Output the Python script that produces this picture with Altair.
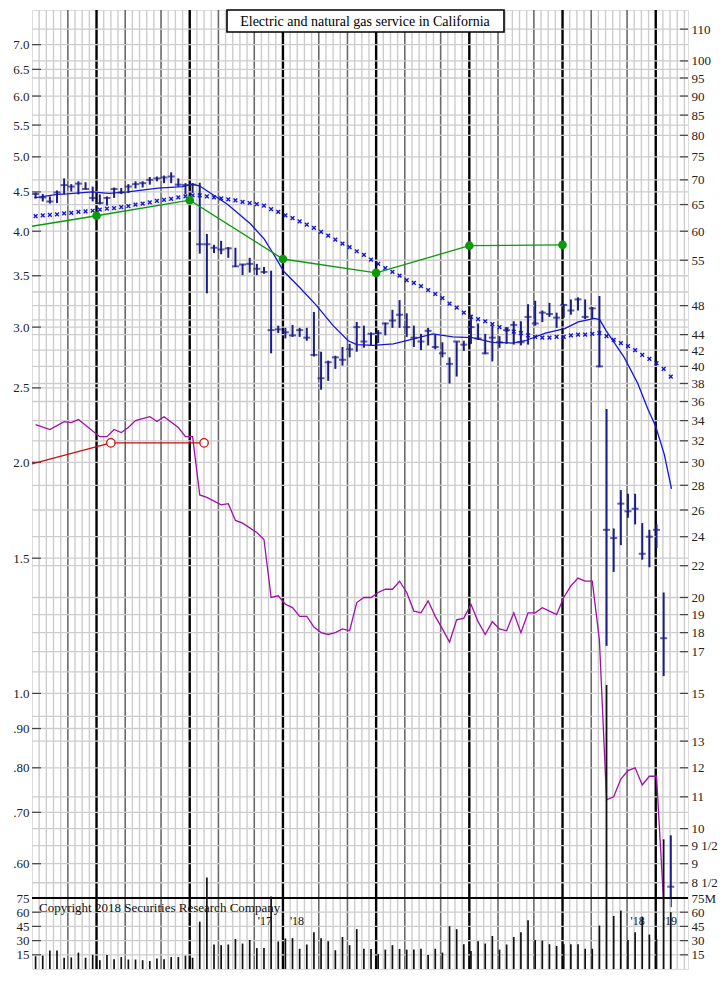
import altair as alt
import pandas as pd

TITLE = "Electric and natural gas service in California"
FONT = "Liberation Serif"

# ---- weekly price bars (bar index 0..89) ----
hi = [67.4, 67.1, 66.6, 67.8, 70.3, 69.1, 69.7, 69.5, 68.6, 67.0, 66.6, 68.4, 68.3, 69.1, 69.7, 69.7, 70.6, 70.7, 70.9, 71.6,
      70.3, 69.3, 69.3, 69.4, 59.5, 57.6, 58.3, 57.2, 57.1, 54.4, 55.4, 54.4, 53.9, 53.3, 45.2, 44.9, 45.3, 44.9, 44.9, 47.1,
      41.8, 40.7, 41.3, 42.4, 42.8, 45.7, 45.2, 44.3, 44.6, 45.6, 47.4, 48.8, 46.9, 45.2, 44.1, 44.9, 44.0, 43.0, 41.1, 43.1,
      43.2, 46.7, 45.5, 44.1, 45.2, 43.8, 45.0, 45.8, 45.8, 48.2, 48.7, 47.3, 48.4, 47.0, 48.2, 48.9, 49.2, 48.9, 47.8, 49.4,
      35.2, 24.6, 27.6, 27.3, 27.3, 25.0, 24.5, 24.9, 20.3, 9.8]
lo = [66.2, 65.6, 65.2, 65.3, 67.0, 67.6, 67.0, 68.0, 65.6, 65.0, 64.8, 66.3, 67.1, 67.3, 68.2, 68.4, 69.0, 69.7, 69.3, 69.3,
      68.6, 67.0, 67.3, 56.1, 49.8, 56.2, 56.0, 55.4, 53.9, 52.6, 53.0, 52.6, 52.8, 41.6, 44.2, 43.5, 43.7, 43.7, 43.2, 41.2,
      37.3, 38.3, 39.7, 40.1, 41.1, 41.8, 42.3, 42.6, 42.9, 43.9, 44.9, 44.9, 43.7, 42.4, 42.0, 42.6, 42.1, 41.1, 38.0, 38.8,
      41.9, 42.8, 43.3, 41.5, 40.6, 42.3, 42.8, 42.7, 42.6, 42.7, 45.2, 45.7, 46.4, 44.9, 46.3, 46.7, 47.3, 46.1, 46.1, 39.9,
      17.3, 21.6, 23.4, 25.4, 24.9, 22.4, 21.9, 23.2, 15.8, 7.9]
close = [67.1, 66.4, 65.6, 67.4, 68.9, 68.6, 69.2, 68.1, 66.3, 65.3, 66.3, 68.1, 67.4, 68.6, 69.1, 69.3, 70.0, 70.3, 70.5, 70.7,
         69.0, 68.9, 69.0, 57.7, 57.7, 57.1, 56.8, 57.0, 54.0, 54.3, 54.4, 53.6, 53.1, 44.6, 44.7, 44.3, 43.9, 44.6, 43.6, 41.4,
         38.6, 40.5, 41.1, 40.8, 42.1, 45.0, 43.1, 44.1, 44.2, 45.5, 45.9, 46.7, 45.0, 43.6, 43.1, 44.5, 42.4, 41.6, 40.3, 43.1,
         42.7, 45.0, 43.5, 41.6, 43.6, 43.0, 44.6, 45.3, 43.0, 46.4, 45.5, 47.0, 46.8, 46.3, 48.1, 47.3, 48.9, 46.4, 47.6, 40.0,
         24.5, 23.9, 26.5, 25.9, 26.1, 22.8, 24.0, 24.5, 17.7, 8.4]
ma30 = [62.8, 62.9, 63.0, 63.1, 63.3, 63.4, 63.6, 63.7, 63.8, 64.0, 64.2, 64.3, 64.5, 64.7, 65.0, 65.2, 65.4, 65.7, 65.9, 66.1,
        66.4, 66.6, 66.8, 66.8, 66.6, 66.4, 66.2, 66.0, 65.8, 65.5, 65.3, 65.1, 64.8, 64.1, 63.6, 62.9, 62.4, 61.8, 61.2, 60.6,
        59.9, 59.2, 58.5, 57.8, 57.2, 56.5, 55.9, 55.1, 54.4, 53.7, 53.1, 52.5, 51.8, 51.4, 50.9, 50.3, 49.7, 49.1, 48.3, 47.7,
        47.0, 46.4, 46.1, 45.8, 45.4, 45.0, 44.7, 44.4, 44.2, 43.9, 43.7, 43.6, 43.6, 43.7, 43.7, 43.9, 44.0, 44.0, 44.1, 44.2,
        43.8, 43.3, 42.9, 42.5, 42.0, 41.4, 40.9, 40.4, 39.7, 38.8]
volume = [13.5, 14.1, 19.5, 19.5, 11.9, 12.2, 17.3, 11.9, 15.0, 9.3, 14.8, 10.3, 12.6, 10.0, 10.0, 9.3, 8.4, 11.0, 10.3, 12.6,
          12.6, 14.1, 11.9, 50.0, 96.7, 25.9, 25.2, 25.9, 31.6, 26.9, 30.7, 22.1, 22.1, 76.7, 29.0, 32.2, 32.6, 21.4, 25.9, 38.9,
          32.6, 29.3, 19.8, 33.8, 25.2, 42.1, 21.4, 21.1, 15.7, 20.5, 25.2, 21.1, 20.5, 20.5, 21.4, 14.8, 21.4, 17.3, 45.2, 42.1,
          26.2, 18.9, 29.3, 26.9, 34.8, 20.5, 25.9, 33.8, 38.9, 51.6, 30.7, 30.0, 26.2, 24.3, 26.2, 26.2, 26.2, 21.4, 21.4, 45.9,
          300.0, 56.0, 61.7, 30.7, 38.9, 55.4, 36.4, 31.6, 137.0, 60.0]

# ---- 10-week moving average (week position, price) ----
ma10_week = [0.3, 3.5, 4.9, 8.4, 10.7, 13.4, 17.6, 21.0, 22.4, 23.4, 27.3, 30.5, 32.4, 33.7, 35.1, 37.4, 39.7, 42.0, 44.1,
             45.3, 47.6, 50.4, 53.1, 55.9, 58.7, 61.4, 64.2, 67.0, 68.8, 71.6, 74.3, 76.2, 78.5, 79.2, 80.1, 82.6, 84.5,
             85.9, 87.0, 88.2, 89.2]
ma10 = [66.3, 67.0, 67.1, 67.5, 67.2, 67.5, 68.3, 68.6, 69.1, 68.7, 65.0, 61.3, 58.6, 56.0, 53.2, 50.6, 48.0, 45.2, 43.2,
        42.7, 42.6, 42.8, 43.4, 44.1, 43.7, 43.6, 43.0, 42.9, 43.2, 44.2, 44.8, 45.7, 46.2, 46.0, 44.5, 41.1, 38.0,
        35.2, 33.4, 30.7, 27.7]

# ---- relative strength line (bar index, value on price scale) ----
rs_bar = [0, 2, 4, 5, 6, 9, 10, 11, 12, 13, 14, 16, 17, 18, 20, 21, 22, 23, 24, 26, 27, 28, 29, 31, 32, 33, 34, 35, 36, 37,
          38, 39, 40, 41, 42, 43, 44, 45, 46, 47, 48, 49, 50, 51, 52, 53, 54, 55, 56, 57, 58, 59, 60, 61, 62, 63, 64, 65, 66,
          67, 68, 69, 70, 71, 72, 73, 74, 75, 76, 77, 78, 79, 80, 81, 82, 83, 84, 85, 86, 87, 88]
rs = [33.6, 33.1, 33.9, 33.8, 34.1, 32.4, 32.4, 33.1, 32.8, 33.3, 34.0, 34.4, 33.9, 34.4, 33.3, 32.4, 32.4, 27.2, 27.0, 26.4,
      26.5, 25.2, 25.0, 24.3, 23.8, 20.0, 20.1, 19.6, 19.4, 18.9, 18.9, 18.3, 18.0, 17.9, 18.0, 18.2, 18.1, 19.7, 20.0, 20.0,
      20.3, 20.5, 20.5, 21.0, 20.3, 19.2, 19.1, 19.8, 18.9, 18.2, 17.5, 18.7, 18.8, 19.6, 18.6, 17.9, 18.6, 18.2, 18.1, 19.1,
      18.0, 19.1, 19.1, 19.4, 19.2, 19.0, 20.0, 20.7, 21.2, 21.0, 21.0, 17.6, 10.9, 11.0, 11.6, 11.9, 12.0, 11.4, 11.7, 11.7, 8.0]

# ---- earnings (12-mo) and dividends, left scale ----
earn_week = [0, 9, 22, 35, 48, 61, 74]
earn = [4.06, 4.19, 4.39, 3.68, 3.53, 3.83, 3.84]
div_week = [0, 11, 24]
div = [1.99, 2.12, 2.12]

# ---- scales / ticks ----
right_labels = [110, 100, 95, 90, 85, 80, 75, 70, 65, 60, 55, 48, 44, 42, 40, 38, 36, 34, 32, 30, 28, 26, 24, 22, 20, 19,
                18, 17, 15, 13, 12, 11, 10, 9.5, 9, 8.5]
left_labels = [7.0, 6.5, 6.0, 5.5, 5.0, 4.5, 4.0, 3.5, 3.0, 2.5, 2.0, 1.5, 1.0, 0.9, 0.8, 0.7, 0.6]
hgrid_extra = [50, 46, 16, 14, 13]
vol_labels = [15, 30, 45, 60, 75]
quarter_weeks = [9, 22, 35, 48, 61, 74, 87]
month_weeks = [5, 13, 18, 26, 31, 40, 44, 52, 57, 65, 70, 78, 83]
year_marks = [("'17", 35, "right"), ("'18", 35, "left"), ("'18", 87, "right"), ("'19", 87, "left")]

W, H, HV = 656, 888, 71
P_LO, P_HI = 8.12, 116.5
RATIO = 15.0

NAVY = "#1c1c8a"
BLUE = "#1414dc"
GREEN = "#0a9a0a"
RED = "#c41010"
PURPLE = "#a010a8"

bars = pd.DataFrame({"i": list(range(len(hi))), "hi": hi, "lo": lo, "close": close, "ma30": ma30, "vol": volume})
ma10_df = pd.DataFrame({"w": ma10_week, "p": ma10})
rs_df = pd.DataFrame({"i": rs_bar, "p": rs})
earn_df = pd.DataFrame({"w": earn_week, "e": earn})
div_df = pd.DataFrame({"w": div_week, "e": div})

weeks_all = list(range(1, 92))
light_weeks = [w for w in weeks_all if w not in quarter_weeks and w not in month_weeks]
vg_light = pd.DataFrame({"w": light_weeks})
vg_month = pd.DataFrame({"w": month_weeks})
vg_quarter = pd.DataFrame({"w": quarter_weeks})

hgrid_vals = sorted(set(right_labels + hgrid_extra + [v * RATIO for v in left_labels]))
hgrid_df = pd.DataFrame({"p": hgrid_vals})
rticks_df = pd.DataFrame({"p": right_labels})
lticks_df = pd.DataFrame({"e": left_labels})

xs = alt.Scale(domain=[0, 91.5], nice=False, zero=False)
X = alt.X("w:Q", scale=xs, axis=None)
price_scale = alt.Scale(type="log", domain=[P_LO, P_HI], nice=False, zero=False)
left_scale = alt.Scale(type="log", domain=[P_LO / RATIO, P_HI / RATIO], nice=False, zero=False)

LBL = dict(title=None, grid=False, ticks=False, domain=False, labelFont=FONT, labelFontSize=13, labelColor="#222")
axis_right = alt.Axis(orient="right", values=right_labels, labelPadding=3,
                      labelExpr="datum.value == 9.5 ? '9 1/2' : datum.value == 8.5 ? '8 1/2' : format(datum.value, 'd')",
                      **LBL)
axis_left = alt.Axis(orient="left", values=left_labels, labelPadding=3,
                     labelExpr="datum.value >= 1 ? format(datum.value, '.1f') : replace(format(datum.value, '.2f'), '0.', '.')",
                     **LBL)


def YR(field):
    return alt.Y(field, type="quantitative", scale=price_scale, axis=axis_right)


def YL(field):
    return alt.Y(field, type="quantitative", scale=left_scale, axis=axis_left)


def vgrid_layers(height):
    return [
        alt.Chart(vg_light).mark_rule(color="#cdcdcd", strokeWidth=1.4).encode(x=X, y=alt.value(0), y2=alt.value(height)),
        alt.Chart(vg_month).mark_rule(color="#6a6a6a", strokeWidth=1.6).encode(x=X, y=alt.value(0), y2=alt.value(height)),
        alt.Chart(vg_quarter).mark_rule(color="#000000", strokeWidth=2.4).encode(x=X, y=alt.value(0), y2=alt.value(height)),
    ]


bar_pos = "0.5 + datum.i * 0.9955"
XSHAPE = "M-1,-1L1,1M-1,1L1,-1"

hgrid = alt.Chart(hgrid_df).mark_rule(color="#cdcdcd", strokeWidth=1.3).encode(y=YR("p"), x=alt.value(0), x2=alt.value(W))
rticks = alt.Chart(rticks_df).mark_rule(color="#444", strokeWidth=1.2).encode(y=YR("p"), x=alt.value(W - 8), x2=alt.value(W))
price_rule = alt.Chart(bars).transform_calculate(w=bar_pos).mark_rule(color=NAVY, strokeWidth=2).encode(
    x=X, y=YR("hi"), y2="lo")
price_tick = alt.Chart(bars).transform_calculate(w=bar_pos).mark_tick(
    color=NAVY, orient="horizontal", size=7, thickness=2).encode(x=X, y=YR("close"))
ma30_pts = alt.Chart(bars).transform_calculate(w=bar_pos).mark_point(
    shape=XSHAPE, size=14, filled=False, color=BLUE, strokeWidth=1.4, opacity=1).encode(x=X, y=YR("ma30"))
ma10_line = alt.Chart(ma10_df).mark_line(color=BLUE, strokeWidth=1.3).encode(x=X, y=YR("p"))
rs_line = alt.Chart(rs_df).transform_calculate(w=bar_pos).mark_line(color=PURPLE, strokeWidth=1.3).encode(x=X, y=YR("p"))

title_df = pd.DataFrame({"t": [TITLE]})
title_box = alt.Chart(title_df).mark_rect(fill="white", stroke="black", strokeWidth=1.6).encode(
    x=alt.value(195), x2=alt.value(472), y=alt.value(0), y2=alt.value(22))
title_txt = alt.Chart(title_df).mark_text(
    font=FONT, fontSize=14, color="black", align="center", baseline="middle").encode(
    text="t:N", x=alt.value(333), y=alt.value(11.5))

right_group = alt.layer(*vgrid_layers(H), hgrid, rticks, rs_line, ma30_pts, ma10_line, price_rule, price_tick,
                        title_box, title_txt)

lticks = alt.Chart(lticks_df).mark_rule(color="#444", strokeWidth=1.2).encode(y=YL("e"), x=alt.value(0), x2=alt.value(9))
earn_line = alt.Chart(earn_df).mark_line(color=GREEN, strokeWidth=1.3).encode(x=X, y=YL("e"))
earn_pts = alt.Chart(earn_df.iloc[1:]).mark_circle(color=GREEN, size=75, opacity=1).encode(x=X, y=YL("e"))
div_line = alt.Chart(div_df).mark_line(color=RED, strokeWidth=1.3).encode(x=X, y=YL("e"))
div_pts = alt.Chart(div_df.iloc[1:]).mark_point(color=RED, size=70, filled=False, strokeWidth=1.3, fill="white",
                                               opacity=1).encode(x=X, y=YL("e"))

left_group = alt.layer(lticks, earn_line, earn_pts, div_line, div_pts)

price_panel = alt.layer(right_group, left_group).resolve_scale(y="independent").properties(width=W, height=H)

# ---- volume panel ----
vol_scale = alt.Scale(domain=[0, 75], nice=False, zero=True)
vaxis_left = alt.Axis(orient="left", values=vol_labels, labelPadding=3, **LBL)
vaxis_right = alt.Axis(orient="right", values=vol_labels, labelPadding=3,
                       labelExpr="datum.value == 75 ? '75M' : datum.value", **LBL)
vgrid_df = pd.DataFrame({"v": [15, 30, 45, 60]})
vtop_df = pd.DataFrame({"v": [75]})

vol_grid = alt.Chart(vgrid_df).mark_rule(color="#cdcdcd", strokeWidth=1.3).encode(
    y=alt.Y("v:Q", scale=vol_scale, axis=vaxis_left), x=alt.value(0), x2=alt.value(W))
vol_lt = alt.Chart(vgrid_df).mark_rule(color="#444", strokeWidth=1.2).encode(
    y=alt.Y("v:Q", scale=vol_scale, axis=vaxis_left), x=alt.value(0), x2=alt.value(9))
vol_top = alt.Chart(vtop_df).mark_rule(color="black", strokeWidth=2).encode(
    y=alt.Y("v:Q", scale=vol_scale, axis=vaxis_left), x=alt.value(0), x2=alt.value(W))
copyright_txt = alt.Chart(pd.DataFrame({"t": ["Copyright 2018 Securities Research Company"]})).mark_text(
    font=FONT, fontSize=13, color="#111", align="left", baseline="alphabetic").encode(
    text="t:N", x=alt.value(7), y=alt.value(14))
ym = pd.DataFrame({"t": [m[0] for m in year_marks], "w": [m[1] for m in year_marks], "a": [m[2] for m in year_marks]})
yr_r = alt.Chart(ym[ym.a == "right"]).mark_text(font=FONT, fontSize=12, color="#111", align="right", dx=-11,
                                                 baseline="alphabetic").encode(text="t:N", x=X, y=alt.value(27))
yr_l = alt.Chart(ym[ym.a == "left"]).mark_text(font=FONT, fontSize=12, color="#111", align="left", dx=7,
                                                baseline="alphabetic").encode(text="t:N", x=X, y=alt.value(27))
left_v = alt.layer(*vgrid_layers(HV), vol_grid, vol_lt, vol_top, copyright_txt, yr_r, yr_l)

vol_bars = alt.Chart(bars).transform_calculate(w=bar_pos).mark_rule(color="#111", strokeWidth=1.7).encode(
    x=X, y=alt.Y("vol:Q", scale=vol_scale, axis=vaxis_right), y2=alt.datum(0))
vol_rt = alt.Chart(vgrid_df).mark_rule(color="#444", strokeWidth=1.2).encode(
    y=alt.Y("v:Q", scale=vol_scale, axis=vaxis_right), x=alt.value(W - 8), x2=alt.value(W))
right_v = alt.layer(vol_rt, vol_bars)

volume_panel = alt.layer(left_v, right_v).resolve_scale(y="independent").properties(width=W, height=HV)

chart = alt.vconcat(price_panel, volume_panel, spacing=0).properties(
    bounds="flush", padding={"left": 4, "top": 0, "right": 0, "bottom": 0}
).configure_view(stroke="black", strokeWidth=2).configure(background="white")

chart.save("out.html", embed_options={"renderer": "svg", "actions": False})
